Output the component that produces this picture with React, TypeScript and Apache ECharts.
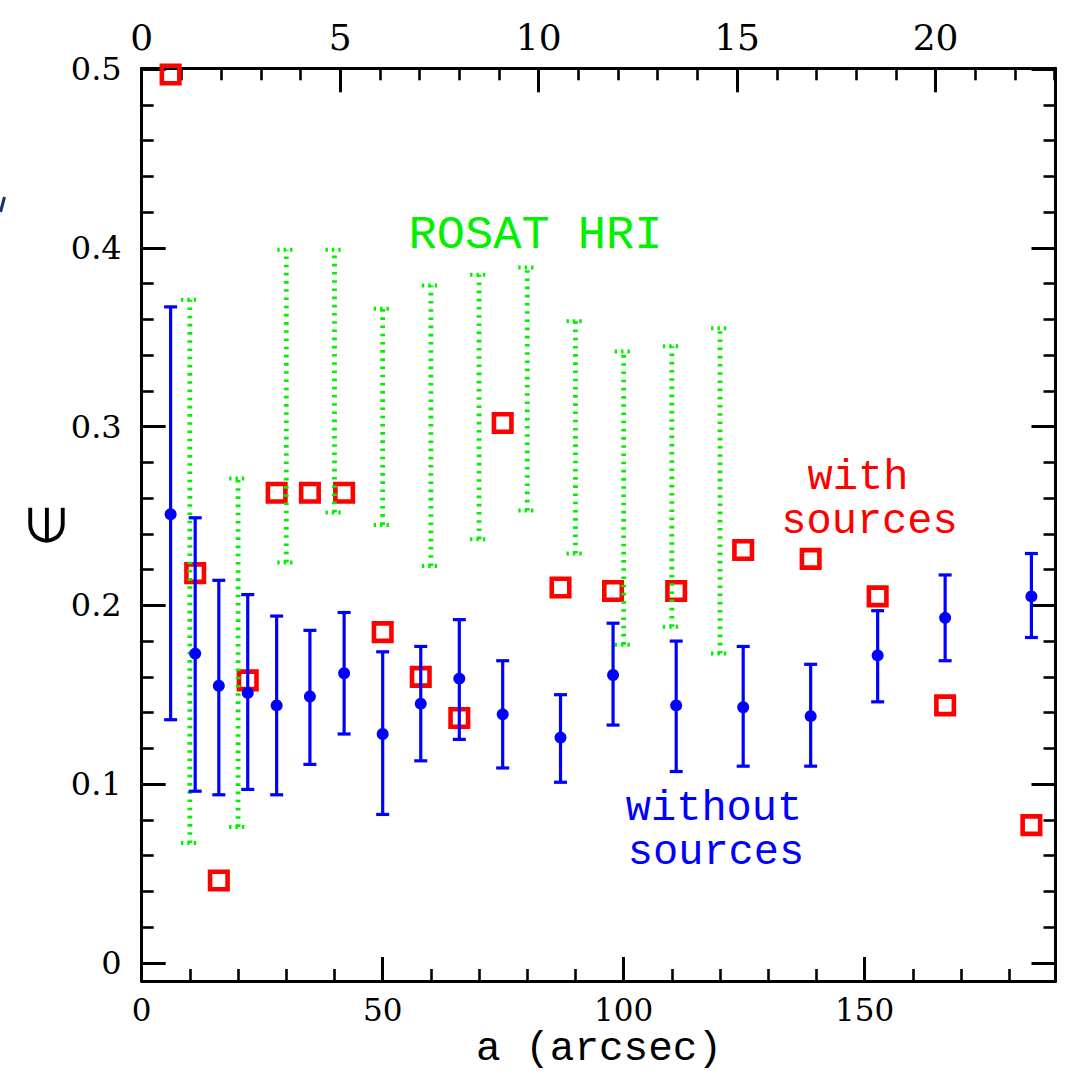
import React, { useEffect, useRef } from "react";
import * as echarts from "echarts";

// ---- data ----
const xArcsec = [6.0, 11.1, 16.0, 22.0, 28.0, 34.9, 42.0, 50.0, 57.9, 65.9, 74.9, 86.9, 97.8, 110.9, 124.8, 138.8, 152.7, 166.7, 184.6];
const withoutMean = [0.251, 0.173, 0.155, 0.151, 0.144, 0.149, 0.162, 0.128, 0.145, 0.159, 0.139, 0.126, 0.161, 0.144, 0.143, 0.138, 0.172, 0.193, 0.205];
const withoutLow = [0.136, 0.096, 0.094, 0.097, 0.094, 0.111, 0.128, 0.083, 0.113, 0.125, 0.109, 0.101, 0.133, 0.107, 0.110, 0.110, 0.146, 0.169, 0.182];
const withoutHigh = [0.367, 0.249, 0.214, 0.206, 0.194, 0.186, 0.196, 0.174, 0.177, 0.192, 0.169, 0.150, 0.190, 0.180, 0.177, 0.167, 0.197, 0.217, 0.229];
const withSources = [0.497, 0.218, 0.046, 0.158, 0.263, 0.263, 0.263, 0.185, 0.160, 0.137, 0.302, 0.210, 0.208, 0.208, 0.231, 0.226, 0.205, 0.144, 0.077];

const rosatX = [10, 20, 30, 40, 50, 60, 70, 80, 90, 100, 110, 120];
const rosatLow = [0.067, 0.076, 0.224, 0.252, 0.245, 0.222, 0.237, 0.253, 0.229, 0.178, 0.188, 0.173];
const rosatHigh = [0.371, 0.271, 0.399, 0.399, 0.366, 0.379, 0.385, 0.389, 0.359, 0.342, 0.345, 0.355];

// ---- axes / ticks ----
const X_MIN = 0;
const X_MAX = 189.6;
const ARCSEC_PER_TOP_UNIT = 8.236;
const TOP_MAX = X_MAX / ARCSEC_PER_TOP_UNIT;
const Y_MIN = -0.0102;
const Y_MAX = 0.5005;

const xMajorTicks = [0, 50, 100, 150];
const xTickLabels = ["0", "50", "100", "150"];
const xMinorTicks = [10, 20, 30, 40, 60, 70, 80, 90, 110, 120, 130, 140, 160, 170, 180];
const topMajorTicks = [0, 5, 10, 15, 20];
const topTickLabels = ["0", "5", "10", "15", "20"];
const topMinorTicks = [1, 2, 3, 4, 6, 7, 8, 9, 11, 12, 13, 14, 16, 17, 18, 19, 21, 22, 23];
const yMajorTicks = [0, 0.1, 0.2, 0.3, 0.4, 0.5];
const yTickLabels = ["0", "0.1", "0.2", "0.3", "0.4", "0.5"];
const yMinorTicks = [0.02, 0.04, 0.06, 0.08, 0.12, 0.14, 0.16, 0.18, 0.22, 0.24, 0.26, 0.28, 0.32, 0.34, 0.36, 0.38, 0.42, 0.44, 0.46, 0.48];

const BLUE = "#0000ff";
const RED = "#ff0000";
const GREEN = "#00f000";
const BLACK = "#000000";
const SERIF = "DejaVu Serif";
const MONO = "Liberation Mono";

function xAxisDef(pos: "bottom" | "top", major: boolean) {
  const isBottom = pos === "bottom";
  const ticks = isBottom ? (major ? xMajorTicks : xMinorTicks) : major ? topMajorTicks : topMinorTicks;
  const labels = isBottom ? xTickLabels : topTickLabels;
  return {
    type: "value",
    position: pos,
    min: X_MIN,
    max: isBottom ? X_MAX : TOP_MAX,
    axisLine: { show: major, onZero: false, lineStyle: { color: BLACK, width: 3 } },
    axisTick: {
      show: true,
      inside: true,
      length: major ? 24 : 12,
      customValues: ticks,
      lineStyle: { color: BLACK, width: major ? 3 : 2.6 },
    },
    axisLabel: major
      ? {
          show: true,
          customValues: ticks,
          formatter: (v: number) => labels[ticks.indexOf(v)] ?? String(v),
          fontFamily: SERIF,
          fontSize: isBottom ? 31 : 36,
          color: BLACK,
          margin: isBottom ? 13 : 13,
        }
      : { show: false },
    splitLine: { show: false },
    minorTick: { show: false },
  };
}

function yAxisDef(pos: "left" | "right", major: boolean) {
  const ticks = major ? yMajorTicks : yMinorTicks;
  return {
    type: "value",
    position: pos,
    min: Y_MIN,
    max: Y_MAX,
    axisLine: { show: major, onZero: false, lineStyle: { color: BLACK, width: 3 } },
    axisTick: {
      show: true,
      inside: true,
      length: major ? 24 : 12,
      customValues: ticks,
      lineStyle: { color: BLACK, width: major ? 3 : 2.6 },
    },
    axisLabel:
      major && pos === "left"
        ? {
            show: true,
            customValues: yMajorTicks,
            formatter: (v: number) => yTickLabels[yMajorTicks.indexOf(v)] ?? String(v),
            fontFamily: SERIF,
            fontSize: 32,
            color: BLACK,
            margin: 20,
          }
        : { show: false },
    splitLine: { show: false },
    minorTick: { show: false },
  };
}

function errorBarRenderer(color: string, width: number, cap: number, dash: number[] | null, capWidth: number) {
  return (params: any, api: any) => {
    const x = api.value(0);
    const lo = api.value(1);
    const hi = api.value(2);
    const pLo = api.coord([x, lo]);
    const pHi = api.coord([x, hi]);
    const base: any = { stroke: color, lineWidth: width, lineCap: "butt", opacity: 1 };
    if (dash) base.lineDash = dash;
    const capStyle: any = { stroke: color, lineWidth: capWidth, lineCap: "butt", opacity: 1 };
    if (dash) capStyle.lineDash = [2.4, 4];
    return {
      type: "group",
      children: [
        { type: "line", shape: { x1: pLo[0], y1: pLo[1], x2: pHi[0], y2: pHi[1] }, style: base },
        { type: "line", shape: { x1: pLo[0] - cap, y1: pLo[1], x2: pLo[0] + cap, y2: pLo[1] }, style: capStyle },
        { type: "line", shape: { x1: pHi[0] - cap, y1: pHi[1], x2: pHi[0] + cap, y2: pHi[1] }, style: capStyle },
      ],
    };
  };
}

export default function App() {
  const ref = useRef<HTMLDivElement>(null);

  useEffect(() => {
    if (!ref.current) return;
    const chart = echarts.init(ref.current, null, { renderer: "svg" });

    const blueBars = xArcsec.map((x, i) => [x, withoutLow[i], withoutHigh[i]]);
    const bluePts = xArcsec.map((x, i) => [x, withoutMean[i]]);
    const redPts = xArcsec.map((x, i) => [x, withSources[i]]);
    const greenBars = rosatX.map((x, i) => [x, rosatLow[i], rosatHigh[i]]);

    const option: any = {
      animation: false,
      backgroundColor: "#ffffff",
      grid: {
        left: 141.7,
        top: 68.3,
        right: 15.5,
        bottom: 110,
        containLabel: false,
        outerBoundsMode: "none",
      },
      xAxis: [xAxisDef("bottom", true), xAxisDef("bottom", false), xAxisDef("top", true), xAxisDef("top", false)],
      yAxis: [yAxisDef("left", true), yAxisDef("left", false), yAxisDef("right", true), yAxisDef("right", false)],
      series: [
        {
          name: "with sources",
          type: "scatter",
          xAxisIndex: 0,
          yAxisIndex: 0,
          data: redPts,
          symbol: "rect",
          symbolSize: 17.5,
          itemStyle: { color: "rgba(255,255,255,0)", borderColor: RED, borderWidth: 4.6, opacity: 1 },
          emphasis: { disabled: true },
          silent: true,
          clip: true,
          z: 2,
        },
        {
          name: "ROSAT HRI",
          type: "custom",
          xAxisIndex: 0,
          yAxisIndex: 0,
          data: greenBars,
          encode: { x: 0, y: [1, 2] },
          renderItem: errorBarRenderer(GREEN, 4.8, 9, [2.6, 5.6], 4),
          silent: true,
          z: 3,
        },
        {
          name: "without sources bars",
          type: "custom",
          xAxisIndex: 0,
          yAxisIndex: 0,
          data: blueBars,
          encode: { x: 0, y: [1, 2] },
          renderItem: errorBarRenderer(BLUE, 3.2, 6.5, null, 3.2),
          silent: true,
          z: 4,
        },
        {
          name: "without sources",
          type: "scatter",
          xAxisIndex: 0,
          yAxisIndex: 0,
          data: bluePts,
          symbol: "circle",
          symbolSize: 12,
          itemStyle: { color: BLUE, opacity: 1 },
          emphasis: { disabled: true },
          silent: true,
          z: 5,
        },
      ],
      graphic: [
        {
          type: "text",
          x: 535.5,
          y: 235,
          style: { text: "ROSAT HRI", fill: GREEN, fontSize: 47, fontFamily: MONO, align: "center", verticalAlign: "middle" },
        },
        {
          type: "text",
          x: 858,
          y: 478,
          style: { text: "with", fill: RED, fontSize: 42, fontFamily: MONO, align: "center", verticalAlign: "middle" },
        },
        {
          type: "text",
          x: 869.5,
          y: 522,
          style: { text: "sources", fill: RED, fontSize: 42, fontFamily: MONO, align: "center", verticalAlign: "middle" },
        },
        {
          type: "text",
          x: 714,
          y: 809,
          style: { text: "without", fill: BLUE, fontSize: 42, fontFamily: MONO, align: "center", verticalAlign: "middle" },
        },
        {
          type: "text",
          x: 716,
          y: 853,
          style: { text: "sources", fill: BLUE, fontSize: 42, fontFamily: MONO, align: "center", verticalAlign: "middle" },
        },
        {
          type: "text",
          x: 599,
          y: 1049,
          style: { text: "a (arcsec)", fill: BLACK, fontSize: 41, fontFamily: MONO, align: "center", verticalAlign: "middle" },
        },
        {
          type: "text",
          x: 47,
          y: 525,
          rotation: Math.PI / 2,
          style: { text: "∈", fill: BLACK, fontSize: 50, fontFamily: "DejaVu Sans", align: "center", verticalAlign: "middle" },
        },
        {
          type: "line",
          shape: { x1: 4.5, y1: 197, x2: 0.5, y2: 212 },
          style: { stroke: "#14336b", lineWidth: 3 },
        },
      ],
    };

    chart.setOption(option);
    return () => chart.dispose();
  }, []);

  return (
    <div
      ref={ref}
      style={{ position: "absolute", left: 0, top: 0, width: 1071, height: 1091, background: "#ffffff" }}
    />
  );
}
